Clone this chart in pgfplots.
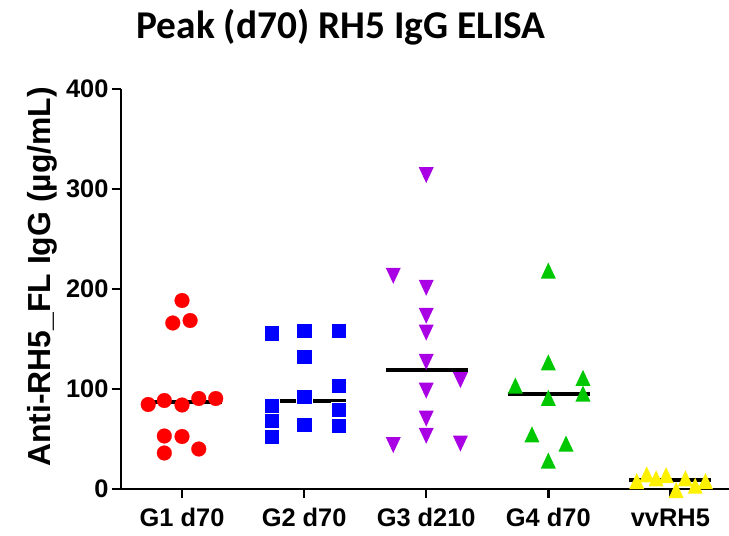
\documentclass[border=0pt]{standalone}
\usepackage{fontspec}
\setmainfont{Liberation Sans}
\newfontfamily\titlefont{Carlito}
\usepackage{pgfplots}
\pgfplotsset{compat=1.18}

\definecolor{gpurple}{RGB}{170,0,228}
\definecolor{ggreen}{RGB}{0,200,0}

% triangles centred on their bounding box, as GraphPad draws them
\pgfdeclareplotmark{uptri}{%
  \pgfpathmoveto{\pgfpoint{0bp}{8bp}}%
  \pgfpathlineto{\pgfpoint{-7.5bp}{-8bp}}%
  \pgfpathlineto{\pgfpoint{7.5bp}{-8bp}}%
  \pgfpathclose\pgfusepathqfill}
\pgfdeclareplotmark{dntri}{%
  \pgfpathmoveto{\pgfpoint{0bp}{-8bp}}%
  \pgfpathlineto{\pgfpoint{-7.5bp}{8bp}}%
  \pgfpathlineto{\pgfpoint{7.5bp}{8bp}}%
  \pgfpathclose\pgfusepathqfill}

\pgfplotstableread{
x y
-0.277 84.5
-0.145 88.5
0 84
0.137 90.5
0.276 90.5
-0.076 166
0.066 168.5
0 188.5
-0.145 53
0 52.5
-0.145 36
0.137 40
}\gone
\pgfplotstableread{
x y
0.732 155.8
1 158.5
1.28 158.5
1 132.5
1.28 103
1 92
0.732 83
0.732 68
0.732 52
1.28 79
1.28 63
1 64
}\gtwo
\pgfplotstableread{
x y
2 313.9
1.73 213.2
2 201.2
2 173.2
2 156.4
2 127.2
2.28 108.9
2 98.4
2 70.4
2 53.2
1.73 43.9
2.28 45.4
}\gthree
\pgfplotstableread{
x y
3 218.5
3 126.7
3.284 111.2
2.73 103.5
3 91.2
3.284 95.5
2.866 54.7
3.145 45.5
3 28.5
}\gfour
\pgfplotstableread{
x y
3.724 8
3.806 14.7
3.883 10.7
3.965 14
4.047 -1
4.123 10.7
4.203 3.3
4.287 8
}\gfive

\begin{document}
\begin{tikzpicture}
\useasboundingbox (-121bp,-47bp) rectangle (608bp,489bp);
\begin{axis}[
    at={(0,0)}, anchor=south west,
    scale only axis,
    width=608bp, height=400bp,
    xmin=-0.5, xmax=4.48,
    ymin=0, ymax=400,
    clip=false,
    axis lines*=left,
    axis line style={line width=2.5bp, black},
    tick style={line width=2.5bp, black},
    tick align=outside,
    major tick length=9bp,
    xtick={0,1,2,3,4},
    xticklabels={G1 d70, G2 d70, G3 d210, G4 d70, vvRH5},
    ytick={0,100,200,300,400},
    /pgf/number format/assume math mode=true,
    ticklabel style={font=\fontsize{25.5}{28}\selectfont\bfseries},
    xticklabel style={yshift=-7bp},
]
\addplot[only marks, mark=*, mark size=7.4bp, red, mark options={fill=red, draw=red, line width=0.2bp}] table {\gone};
\addplot[only marks, mark=square*, mark size=7.6bp, blue, mark options={fill=blue, draw=white, line width=0.4bp}] table {\gtwo};
\addplot[only marks, mark=dntri, gpurple, fill=gpurple] table {\gthree};
\addplot[only marks, mark=uptri, ggreen, fill=ggreen] table {\gfour};
\addplot[only marks, mark=uptri, yellow, fill=yellow] table {\gfive};
% medians
\addplot[black, line width=4bp] coordinates {(-0.33,86.8) (0.33,86.8)};
\addplot[black, line width=4bp] coordinates {(0.67,88) (1.34,88)};
\addplot[black, line width=4bp] coordinates {(1.67,118.8) (2.34,118.8)};
\addplot[black, line width=4bp] coordinates {(2.67,95.5) (3.34,95.5)};
\addplot[black, line width=4bp] coordinates {(3.664,8.8) (4.33,8.8)};
\end{axis}
\node[rotate=90, font=\fontsize{32}{36}\selectfont\bfseries] at (-79bp,212bp) {Anti-RH5\_FL IgG (µg/mL)};
\node[anchor=base, font=\fontsize{39.5}{44}\selectfont\titlefont\bfseries] at (220bp,450bp) {Peak (d70) RH5 IgG ELISA};
\end{tikzpicture}
\end{document}
